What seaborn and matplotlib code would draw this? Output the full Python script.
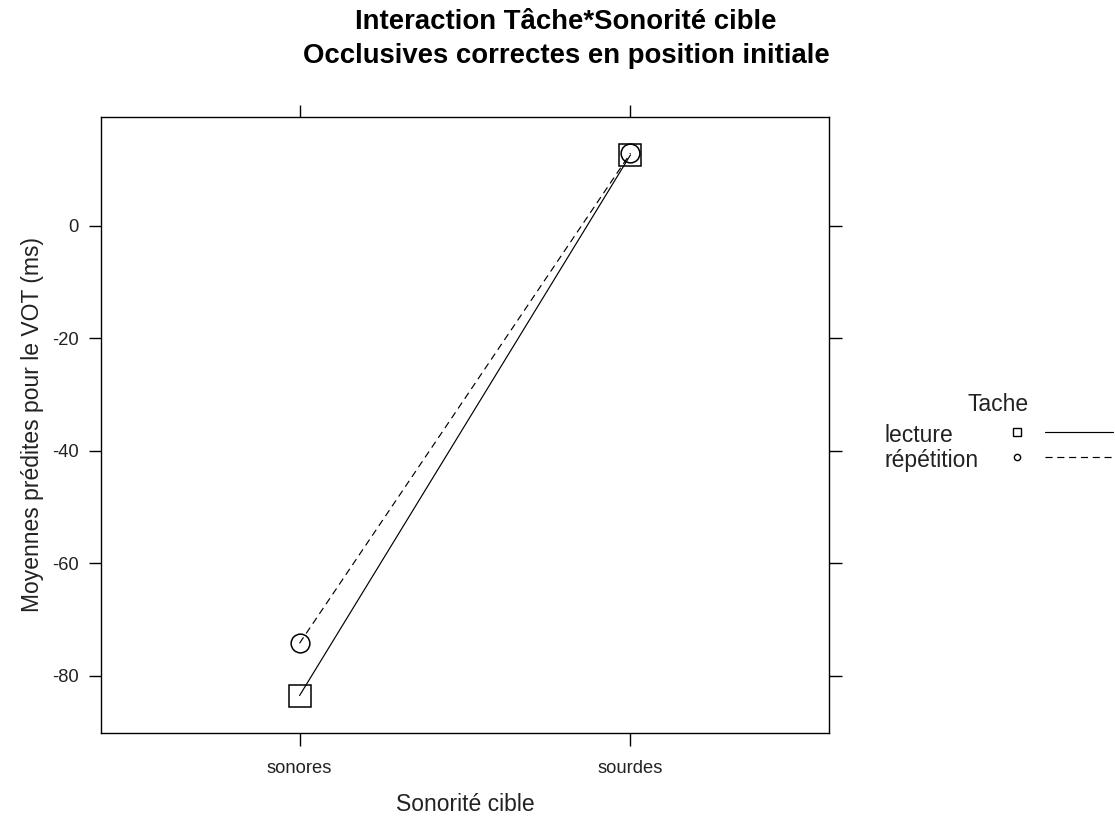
import matplotlib
matplotlib.use("Agg")
import matplotlib.pyplot as plt
from matplotlib.lines import Line2D
import seaborn as sns
import pandas as pd

# ---- data ----
sonorite = ["sonores", "sourdes", "sonores", "sourdes"]
tache = ["lecture", "lecture", "répétition", "répétition"]
vot = [-83.5, 12.6, -74.2, 12.9]

legend_labels = ["lecture", "répétition"]
yticks = [-80, -60, -40, -20, 0]

df = pd.DataFrame({"Sonorité cible": sonorite, "Tache": tache, "VOT": vot})

sns.set_style("white")
plt.rcParams["font.family"] = ["Liberation Sans", "DejaVu Sans"]

W, H = 1115, 816
fig = plt.figure(figsize=(W / 100, H / 100), dpi=100)

def fx(x):
    return x / W

def fy(y):
    return 1 - y / H

ax = fig.add_axes([fx(101), fy(732.7), fx(829) - fx(101), fy(116.7) - fy(732.7)])

sns.lineplot(
    data=df, x="Sonorité cible", y="VOT", hue="Tache", style="Tache",
    palette={"lecture": "black", "répétition": "black"},
    markers={"lecture": "s", "répétition": "o"},
    dashes={"lecture": "", "répétition": (6, 4)},
    lw=0.85, markeredgecolor="black", markerfacecolor="none",
    markeredgewidth=1.1, legend=False, ax=ax, sort=False,
)
for ln in ax.lines:
    ln.set_markerfacecolor("none")
    ln.set_markeredgecolor("black")
    if ln.get_marker() == "s":
        ln.set_markersize(16)
    else:
        ln.set_markersize(13.5)

ax.set_xlim(-0.6, 1.6)
ax.set_ylim(-90.1, 19.4)
ax.set_yticks(yticks)
ax.set_yticklabels([str(v) for v in yticks])

for s in ax.spines.values():
    s.set_visible(True)
    s.set_color("black")
    s.set_linewidth(1.0)

ax.tick_params(axis="both", which="both", direction="out", length=9, width=1.0,
               color="black", top=True, right=True, bottom=True, left=True,
               labeltop=False, labelright=False, labelsize=13.2,
               labelcolor="#222222")
ax.tick_params(axis="y", pad=7)
ax.tick_params(axis="x", pad=10.5)

ax.set_xlabel("Sonorité cible", fontsize=16.5, labelpad=11.5, color="#222222")
ax.set_ylabel("Moyennes prédites pour le VOT (ms)", fontsize=16.5, labelpad=6,
              color="#222222")

fig.text(fx(566), fy(39), "Interaction Tâche*Sonorité cible\nOcclusives correctes en position initiale",
         ha="center", va="center", multialignment="center", fontsize=19.8,
         fontweight="bold", linespacing=1.38, color="black")

# ---- legend (lattice style key) ----
fig.text(fx(998), fy(411), "Tache", ha="center", va="baseline", fontsize=16.5,
         color="#222222")
fig.text(fx(885), fy(442), legend_labels[0], ha="left", va="baseline", fontsize=16.5,
         color="#222222")
fig.text(fx(885), fy(467), legend_labels[1], ha="left", va="baseline", fontsize=16.5,
         color="#222222")
fig.add_artist(Line2D([fx(1017)], [fy(432)], marker="s", ms=5.5, mfc="none",
                      mec="black", mew=1.0, ls="none", transform=fig.transFigure))
fig.add_artist(Line2D([fx(1017)], [fy(457)], marker="o", ms=4.5, mfc="none",
                      mec="black", mew=1.0, ls="none", transform=fig.transFigure))
fig.add_artist(Line2D([fx(1045), fx(1113)], [fy(432), fy(432)], color="black",
                      lw=0.85, ls="-", transform=fig.transFigure))
fig.add_artist(Line2D([fx(1045), fx(1113)], [fy(457), fy(457)], color="black",
                      lw=0.85, ls=(0, (6, 4)), transform=fig.transFigure))

fig.savefig("out.png", dpi=100)
